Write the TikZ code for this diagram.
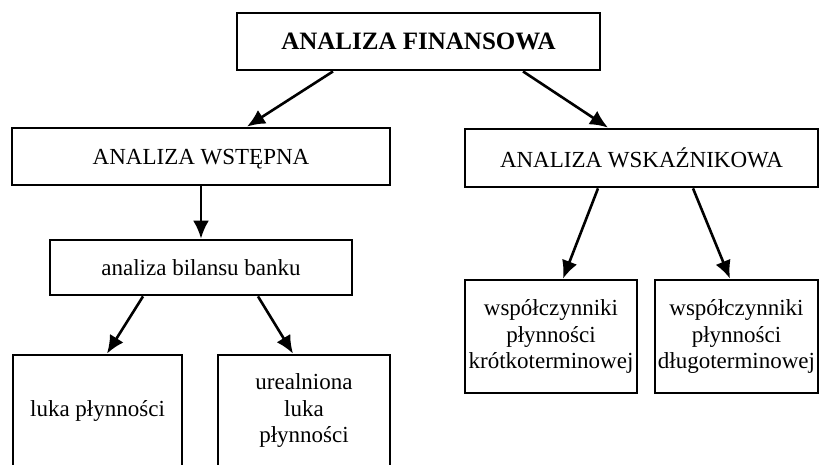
\documentclass[tikz,border=0pt]{standalone}
\usepackage{fontspec}
\setmainfont{Liberation Serif}
\usetikzlibrary{positioning,arrows.meta}

\begin{document}
\begin{tikzpicture}[
     x=1pt, y=-1pt,
     % define styles
     box/.style={
         draw,
         rectangle,
         line width=2.8pt,
         inner sep=2pt,
         align=center,
         font=\fontsize{23}{26.5}\selectfont
     },
     link/.style={
         line width=2.6pt
     },
     >={Latex[length=18pt,width=16pt]}
]
\useasboundingbox (0,0) rectangle (820,464);

% top
\node[box, minimum width=363pt, minimum height=57pt, font=\fontsize{25}{28}\selectfont\bfseries] (fin) at (418.5,41.5) {ANALIZA FINANSOWA};
% second level
\node[box, minimum width=378pt, minimum height=57pt, text depth=0pt] (wst) at (201,156.5) {ANALIZA WSTĘPNA};
\node[box, minimum width=353pt, minimum height=58pt] (wsk) at (641.5,158) {ANALIZA WSKAŹNIKOWA};
% left branch
\node[box, minimum width=302pt, minimum height=55pt] (bil) at (201,267.5) {analiza bilansu banku};
\node[box, minimum width=169pt, minimum height=111pt] (luka) at (97.5,410.5) {luka płynności};
\node[box, minimum width=172pt, minimum height=111pt] (ureal) at (304,410.5) {urealniona\\luka\\płynności};
% right branch
\node[box, minimum width=172pt, minimum height=113pt] (krot) at (551,336.5) {współczynniki\\płynności\\krótkoterminowej};
\node[box, minimum width=163pt, minimum height=113pt] (dlug) at (736.5,336.5) {współczynniki\\płynności\\długoterminowej};

% fin
\draw[link,->] ([xshift=-85.5pt]fin.south) -- ([xshift=46pt]wst.north);
\draw[link,->] ([xshift=104.5pt]fin.south) -- ([xshift=-33.5pt]wsk.north);
% wst
\draw[link,->] (wst.south) -- (bil.north);
% bil
\draw[link,->] ([xshift=-58pt]bil.south) -- ([xshift=9.5pt]luka.north);
\draw[link,->] ([xshift=57pt]bil.south) -- ([xshift=-11pt]ureal.north);
% wsk
\draw[link,->] ([xshift=-43.5pt]wsk.south) -- ([xshift=12pt]krot.north);
\draw[link,->] ([xshift=51.5pt]wsk.south) -- ([xshift=-6.5pt]dlug.north);

\end{tikzpicture}
\end{document}
